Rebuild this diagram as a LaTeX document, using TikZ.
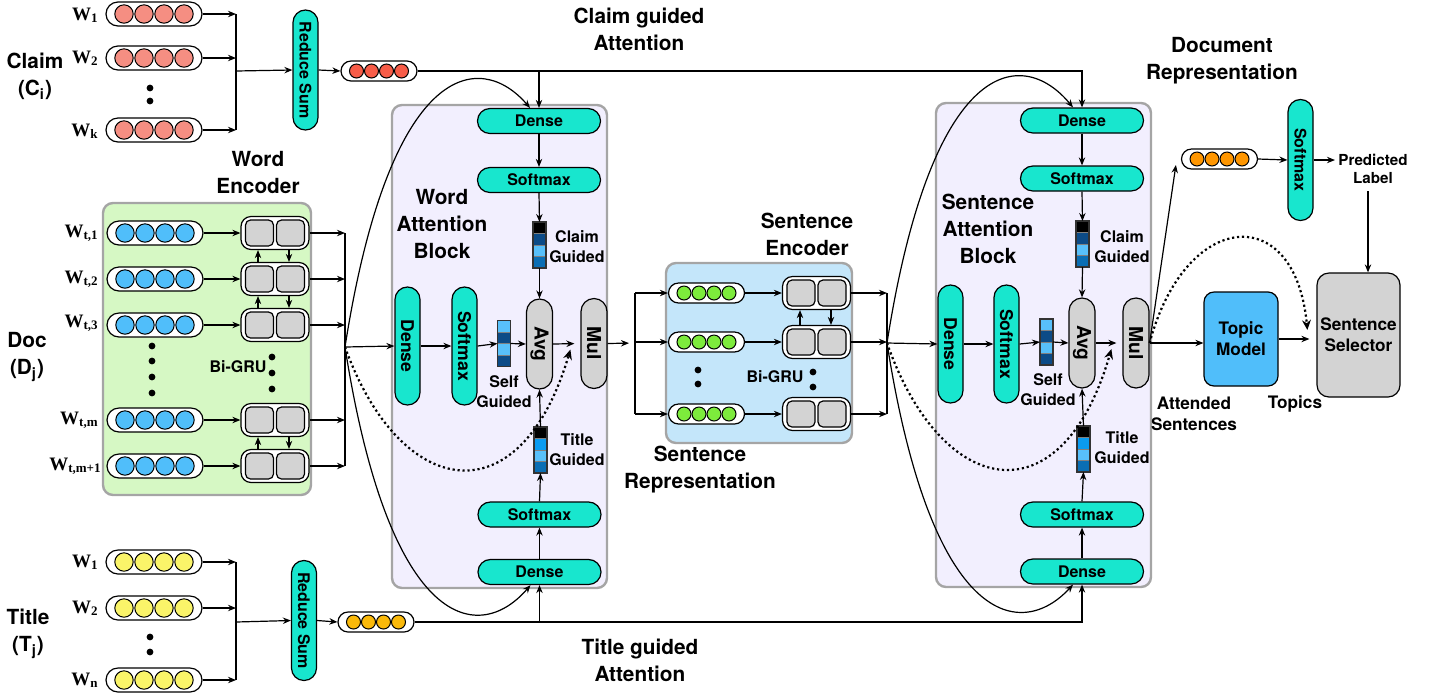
\documentclass[tikz,border=0pt]{standalone}
\usepackage{fontspec}
\usepackage{graphicx}
\setmainfont{TeX Gyre Heros}
\newfontfamily\wfont{Liberation Serif}
\usetikzlibrary{arrows.meta,calc}
\definecolor{tealc}{RGB}{24,230,206}
\definecolor{clmc}{RGB}{245,142,130}
\definecolor{redc}{RGB}{247,92,72}
\definecolor{bluec}{RGB}{80,190,250}
\definecolor{yelc}{RGB}{250,244,105}
\definecolor{torc}{RGB}{250,185,10}
\definecolor{greenc}{RGB}{125,235,60}
\definecolor{dorc}{RGB}{255,150,0}
\definecolor{greenbg}{RGB}{214,248,196}
\definecolor{lavbg}{RGB}{242,239,254}
\definecolor{bluebg}{RGB}{196,230,250}
\definecolor{grayc}{RGB}{211,211,211}
\definecolor{bordc}{RGB}{165,165,165}
\definecolor{navyc}{RGB}{12,75,135}
\definecolor{lightc}{RGB}{88,192,250}
\definecolor{midc}{RGB}{10,110,180}
\definecolor{brightc}{RGB}{10,155,240}
\definecolor{topicc}{RGB}{80,190,250}
\newcommand\wlab[1]{{\wfont\bfseries\fontsize{9.5}{9.5}\selectfont W\raisebox{-0.25ex}{\fontsize{6.5}{6.5}\selectfont #1}}}
\newcommand\bigpill[4]{\node[bigpillbox] (#1) at (#2,#3) {};
 \foreach \dx in {-30,-10,10,30} {\draw[pc, fill=#4] (#2+\dx,#3) circle[radius=4.6pt];}}
\newcommand\smallpill[4]{\node[smallpillbox] (#1) at (#2,#3) {};
 \foreach \dx in {-22.5,-7.5,7.5,22.5} {\draw[pc, fill=#4] (#2+\dx,#3) circle[radius=3.5pt];}}
\newcommand\grucell[3]{\node[gruout] (#1) at (#2,#3) {};
 \node[gruin] (#1a) at (#2-15.5,#3) {};
 \node[gruin] (#1b) at (#2+15.5,#3) {};}
\newcommand\attbar[7]{\node[barbox] (#1) at (#2,#3) {};
 \fill[#4] (#2-6.5,#3-23) rectangle (#2+6.5,#3-11.5);
 \fill[#5] (#2-6.5,#3-11.5) rectangle (#2+6.5,#3);
 \fill[#6] (#2-6.5,#3) rectangle (#2+6.5,#3+11.5);
 \fill[#7] (#2-6.5,#3+11.5) rectangle (#2+6.5,#3+23);
 \draw[gray, line width=0.4pt] (#2-6.5,#3-11.5) -- (#2+6.5,#3-11.5) (#2-6.5,#3) -- (#2+6.5,#3) (#2-6.5,#3+11.5) -- (#2+6.5,#3+11.5);
 \draw[line width=0.6pt, draw=black!80] (#2-6.5,#3-23) rectangle (#2+6.5,#3+23);}
\begin{document}
\begin{tikzpicture}[x=0.5pt,y=-0.5pt,
 arr/.style={line width=0.6pt, -{Stealth[length=4pt,width=3.2pt]}},
 ln/.style={line width=0.6pt},
 dotarr/.style={line width=1.1pt, dash pattern=on 1.1pt off 1.4pt, -{Stealth[length=5pt,width=4.4pt]}},
 bigpillbox/.style={draw, line width=0.6pt, fill=white, rounded corners=6pt, minimum width=48pt, minimum height=12pt, inner sep=0},
 smallpillbox/.style={draw, line width=0.6pt, fill=white, rounded corners=5pt, minimum width=38pt, minimum height=10pt, inner sep=0},
 pc/.style={draw, line width=0.5pt},
 hpill/.style={draw, fill=tealc, rounded corners=6.2pt, minimum width=61.5pt, minimum height=12.5pt, inner sep=0, line width=0.6pt, font=\bfseries\fontsize{8}{8}\selectfont},
 vpill/.style={draw, fill=tealc, rounded corners=6.2pt, minimum width=12.5pt, minimum height=59pt, inner sep=0, line width=0.6pt, font=\bfseries\fontsize{8.8}{8.8}\selectfont},
 gpill/.style={vpill, fill=grayc, minimum width=13pt, minimum height=45pt, rounded corners=6.5pt, font=\bfseries\fontsize{9.6}{9.6}\selectfont},
 gruout/.style={draw, fill=white, rounded corners=5pt, minimum width=34pt, minimum height=16.5pt, inner sep=0, line width=0.6pt},
 gruin/.style={draw, fill=grayc, rounded corners=2.5pt, minimum width=14pt, minimum height=13pt, inner sep=0, line width=0.6pt},
 barbox/.style={minimum width=6.5pt, minimum height=23pt, inner sep=0, outer sep=0},
 block/.style={draw=bordc, line width=1.2pt, rounded corners=5pt, inner sep=0},
 lbl/.style={font=\bfseries\fontsize{10.4}{13.5}\selectfont, align=center, inner sep=0},
 slbl/.style={font=\bfseries\fontsize{8}{10}\selectfont, align=center, inner sep=0},
 mlbl/.style={font=\bfseries\fontsize{8.6}{10.5}\selectfont, align=center, inner sep=0},
 wl/.style={inner sep=0, anchor=east},
 dotn/.style={circle, fill=black, inner sep=0, minimum size=3.4pt},
]
\useasboundingbox (0,0) rectangle (1441,698);

% ---- containers
\node[block, fill=greenbg, minimum width=104pt, minimum height=146pt] (wencbox) at (207,349) {};
\node[block, fill=lavbg, minimum width=107.5pt, minimum height=241.5pt] (wablock) at (499.5,346.5) {};
\node[block, fill=bluebg, minimum width=93pt, minimum height=90pt] (sencbox) at (759,353) {};
\node[block, fill=lavbg, minimum width=107.5pt, minimum height=242pt] (sablock) at (1043.5,345) {};

% ---- big labels
\node[lbl] (claimlbl) at (35,76) {Claim\\(C\textsubscript{i})};
\node[lbl] (doclbl) at (27,357) {Doc\\(D\textsubscript{j})};
\node[lbl] (titlelbl) at (28,634) {Title\\(T\textsubscript{j})};
\node[lbl] (cgatt) at (639,29) {Claim guided\\Attention};
\node[lbl] (tgatt) at (640,660) {Title guided\\Attention};
\node[lbl] (wenclbl) at (258,173) {Word\\Encoder};
\node[lbl] (walbl) at (442,224) {Word\\Attention\\Block};
\node[lbl] (senclbl) at (807,234) {Sentence\\Encoder};
\node[lbl] (sreplbl) at (700,470) {Sentence\\Representation};
\node[lbl] (salbl) at (988,229) {Sentence\\Attention\\Block};
\node[lbl] (dreplbl) at (1222,61) {Document\\Representation};

% ---- claim input
\node[wl] (lc1) at (98,15) {\wlab{1}};
\node[wl] (lc2) at (98,58) {\wlab{2}};
\node[wl] (lck) at (98,131) {\wlab{k}};
\bigpill{cp1}{154}{14}{clmc}
\bigpill{cp2}{154}{58}{clmc}
\bigpill{cpk}{154}{130}{clmc}
\node[dotn] (cd1) at (150,88) {};
\node[dotn] (cd2) at (150,101) {};
\coordinate (cj) at (236,71);
\node[vpill, minimum height=60pt, font=\bfseries\fontsize{8}{8}\selectfont] (crs) at (305.5,70) {\rotatebox{-90}{Reduce Sum}};
\smallpill{cout}{379}{71}{redc}
\draw[arr] (cp1.east) -- (cp1.east -| cj);
\draw[arr] (cp2.east) -- (cp2.east -| cj);
\draw[arr] (cpk.east) -- (cpk.east -| cj);
\draw[ln] (cp1.east -| cj) -- (cpk.east -| cj);
\draw[arr] (cj) -- (crs.west);
\draw[arr] (crs.east) -- (cout.west);

% ---- title input
\node[wl] (lt1) at (98,562) {\wlab{1}};
\node[wl] (lt2) at (98,608) {\wlab{2}};
\node[wl] (ltn) at (98,680) {\wlab{n}};
\bigpill{tp1}{154}{562}{yelc}
\bigpill{tp2}{154}{608}{yelc}
\bigpill{tpn}{154}{680}{yelc}
\node[dotn] (td1) at (150,637) {};
\node[dotn] (td2) at (150,652) {};
\coordinate (tj) at (236,622);
\node[vpill, minimum height=60pt, font=\bfseries\fontsize{8}{8}\selectfont] (trs) at (304,620.5) {\rotatebox{-90}{Reduce Sum}};
\smallpill{tout}{376}{622}{torc}
\draw[arr] (tp1.east) -- (tp1.east -| tj);
\draw[arr] (tp2.east) -- (tp2.east -| tj);
\draw[arr] (tpn.east) -- (tpn.east -| tj);
\draw[ln] (tp1.east -| tj) -- (tpn.east -| tj);
\draw[arr] (tj) -- (trs.west);
\draw[arr] (trs.east) -- (tout.west);

% ---- word encoder
\node[wl] (ld1) at (98,233) {\wlab{t,1}};
\node[wl] (ld2) at (98,279) {\wlab{t,2}};
\node[wl] (ld3) at (98,323) {\wlab{t,3}};
\node[wl] (ld4) at (98,420) {\wlab{t,m}};
\node[wl] (ld5) at (101,466) {\wlab{t,m+1}};
\bigpill{dp1}{155}{233}{bluec}
\bigpill{dp2}{155}{279}{bluec}
\bigpill{dp3}{155}{325}{bluec}
\bigpill{dp4}{155}{420}{bluec}
\bigpill{dp5}{155}{466}{bluec}
\grucell{dg1}{275}{233}
\grucell{dg2}{275}{279}
\grucell{dg3}{275}{325}
\grucell{dg4}{275}{420}
\grucell{dg5}{275}{466}
\foreach \i in {1,...,5} {\draw[arr] (dp\i.east) -- (dg\i.west);}
\draw[arr] ([xshift=-8.5pt]dg2.north) -- ([xshift=-8.5pt]dg1.south);
\draw[arr] ([xshift=7pt]dg1.south) -- ([xshift=7pt]dg2.north);
\draw[arr] ([xshift=-8.5pt]dg3.north) -- ([xshift=-8.5pt]dg2.south);
\draw[arr] ([xshift=7pt]dg2.south) -- ([xshift=7pt]dg3.north);
\draw[arr] ([xshift=-8.5pt]dg5.north) -- ([xshift=-8.5pt]dg4.south);
\draw[arr] ([xshift=7pt]dg4.south) -- ([xshift=7pt]dg5.north);
\node[dotn] (dd1) at (152,346) {};
\node[dotn] (dd2) at (152,361) {};
\node[dotn] (dd3) at (152,377) {};
\node[dotn] (dd4) at (152,393) {};
\node[slbl] (wbigru) at (238,367) {Bi-GRU};
\node[dotn] (dd5) at (272,357) {};
\node[dotn] (dd6) at (272,373) {};
\node[dotn] (dd7) at (272,389) {};
\coordinate (wj) at (345,347);
\foreach \i in {1,...,5} {\draw[arr] (dg\i.east) -- (dg\i.east -| wj);}
\draw[ln] (dg1.east -| wj) -- (dg5.east -| wj);

% ---- word attention block
\node[hpill] (wdenseT) at (539,121) {Dense};
\node[hpill] (wsoftT) at (539,180) {Softmax};
\attbar{wclaimvec}{539.5}{245}{black}{navyc}{lightc}{midc}
\node[slbl] (wcglbl) at (577,247) {Claim\\Guided};
\node[vpill] (wdenseV) at (407.5,346) {\rotatebox{-90}{Dense}};
\node[vpill] (wsoftV) at (464.5,346) {\rotatebox{-90}{Softmax}};
\attbar{wselfvec}{504}{343.5}{lightc}{navyc}{lightc}{navyc}
\node[slbl] (wsglbl) at (504,392) {Self\\Guided};
\node[gpill] (wavg) at (539.5,344) {\rotatebox{-90}{Avg}};
\node[gpill] (wmul) at (594,343.5) {\rotatebox{-90}{Mul}};
\attbar{wtitlevec}{540.5}{450}{black}{brightc}{lightc}{midc}
\node[slbl] (wtglbl) at (577,450) {Title\\Guided};
\node[hpill] (wsoftB) at (539.5,514.5) {Softmax};
\node[hpill] (wdenseB) at (539.5,572) {Dense};
\draw[arr] (wj) -- (wdenseV.west);
\draw[arr] (wdenseV.east) -- (wsoftV.west);
\draw[arr] (wsoftV.east) -- (wselfvec.west);
\draw[arr] (wselfvec.east) -- (wavg.west);
\draw[arr, shorten >=3pt] (wavg.east) -- (wmul.west);
\draw[arr] (wdenseT.south) -- (wsoftT.north);
\draw[arr] (wsoftT.south) -- (wclaimvec.north);
\draw[arr] (wclaimvec.south) -- (wavg.north);
\draw[arr] (wdenseB.north) -- (wsoftB.south);
\draw[arr] (wsoftB.north) -- (wtitlevec.south);
\draw[arr] (wtitlevec.north) -- (wavg.south);
\draw[arr] (wj) .. controls (390,60) and (480,50) .. ([xshift=-4.5pt]wdenseT.north);
\draw[arr] (wj) .. controls (390,634) and (480,644) .. ([xshift=-4.5pt]wdenseB.south);
\draw[dotarr] (wj) .. controls (400,500) and (520,520) .. ([xshift=-5pt,yshift=-3pt]wmul.west);

% ---- sentence encoder
\coordinate (sj) at (635,343);
\smallpill{sp1}{706.5}{293}{greenc}
\smallpill{sp2}{706.5}{342}{greenc}
\smallpill{sp3}{706.5}{414}{greenc}
\grucell{sg1}{816.5}{293}
\grucell{sg2}{816.5}{342}
\grucell{sg3}{816.5}{414}
\draw[arr, shorten >=3pt] (wmul.east) -- (sj);
\draw[ln] (sj |- sp1.west) -- (sj |- sp3.west);
\foreach \i in {1,2,3} {\draw[arr] (sj |- sp\i.west) -- (sp\i.west); \draw[arr] (sp\i.east) -- (sg\i.west);}
\draw[arr] ([xshift=-8.25pt]sg2.north) -- ([xshift=-8.25pt]sg1.south);
\draw[arr] ([xshift=7.25pt]sg1.south) -- ([xshift=7.25pt]sg2.north);
\node[dotn] (sd1) at (698,370) {};
\node[dotn] (sd2) at (698,384) {};
\node[slbl] (sbigru) at (775,377) {Bi-GRU};
\node[dotn] (sd3) at (813,372) {};
\node[dotn] (sd4) at (813,387) {};
\coordinate (sjn) at (887,343);
\foreach \i in {1,2,3} {\draw[arr] (sg\i.east) -- (sg\i.east -| sjn);}
\draw[ln] (sg1.east -| sjn) -- (sg3.east -| sjn);

% ---- sentence attention block
\node[hpill] (sdenseT) at (1082,120.5) {Dense};
\node[hpill] (ssoftT) at (1082,178.5) {Softmax};
\attbar{sclaimvec}{1082.5}{244}{black}{navyc}{lightc}{midc}
\node[slbl] (scglbl) at (1122,247) {Claim\\Guided};
\node[vpill] (sdenseV) at (950.5,344) {\rotatebox{-90}{Dense}};
\node[vpill] (ssoftV) at (1006.5,344) {\rotatebox{-90}{Softmax}};
\attbar{sselfvec}{1046.5}{342}{lightc}{navyc}{lightc}{navyc}
\node[slbl] (ssglbl) at (1048,390) {Self\\Guided};
\node[gpill] (savg) at (1082,343) {\rotatebox{-90}{Avg}};
\node[gpill] (smul) at (1136,343) {\rotatebox{-90}{Mul}};
\attbar{stitlevec}{1083.5}{449}{black}{brightc}{lightc}{midc}
\node[slbl] (stglbl) at (1122,448) {Title\\Guided};
\node[hpill] (ssoftB) at (1082,514.5) {Softmax};
\node[hpill] (sdenseB) at (1082,571.5) {Dense};
\draw[arr] (sjn) -- (sdenseV.west);
\draw[arr] (sdenseV.east) -- (ssoftV.west);
\draw[arr] (ssoftV.east) -- (sselfvec.west);
\draw[arr] (sselfvec.east) -- (savg.west);
\draw[arr, shorten >=3pt] (savg.east) -- (smul.west);
\draw[arr] (sdenseT.south) -- (ssoftT.north);
\draw[arr] (ssoftT.south) -- (sclaimvec.north);
\draw[arr] (sclaimvec.south) -- (savg.north);
\draw[arr] (sdenseB.north) -- (ssoftB.south);
\draw[arr] (ssoftB.north) -- (stitlevec.south);
\draw[arr] (stitlevec.north) -- (savg.south);
\draw[arr] (sjn) .. controls (932,56) and (1022,46) .. ([xshift=-4.5pt]sdenseT.north);
\draw[arr] (sjn) .. controls (932,630) and (1022,640) .. ([xshift=-4.5pt]sdenseB.south);
\draw[dotarr] (sjn) .. controls (942,500) and (1062,520) .. ([xshift=-5.5pt,yshift=-3pt]smul.west);

% ---- guidance lines
\draw[arr] (cout.east) -| (sdenseT.north);
\draw[arr] (cout.east -| wdenseT.north) -- (wdenseT.north);
\draw[arr] (tout.east) -| (sdenseB.south);
\draw[arr] (tout.east -| wdenseB.south) -- (wdenseB.south);

% ---- output part
\smallpill{docvec}{1219.5}{159}{dorc}
\node[vpill, minimum height=60.5pt, font=\bfseries\fontsize{8}{8}\selectfont] (softR) at (1300.5,160) {\rotatebox{-90}{Softmax}};
\node[font=\bfseries\fontsize{7.6}{9}\selectfont, align=center, inner sep=0] (pred) at (1373,169) {Predicted\\Label};
\node[draw, fill=topicc, rounded corners=5pt, minimum width=37pt, minimum height=47pt, inner sep=0, line width=0.6pt, mlbl] (topic) at (1241,339) {Topic\\Model};
\node[draw, fill=grayc, rounded corners=6pt, minimum width=41.5pt, minimum height=62pt, inner sep=0, line width=0.6pt, mlbl] (selector) at (1358.5,335) {Sentence\\Selector};
\node[mlbl] (attlbl) at (1194,414) {Attended\\Sentences};
\node[mlbl] (topicslbl) at (1295,404) {Topics};
\draw[arr] (smul.east) -- ([xshift=-2.5pt,yshift=-3pt]docvec.west);
\draw[arr] (docvec.east) -- (softR.west);
\draw[arr] (softR.east) -- ([xshift=-1.5pt]pred.west |- softR.east);
\draw[arr] ([xshift=-2.5pt,yshift=-3.5pt]pred.south) -- ([xshift=-2.5pt]pred.south |- selector.north);
\draw[arr] (smul.east) -- (topic.west |- smul.east);
\draw[arr] (topic.east) -- ([xshift=-3.5pt]selector.west |- topic.east);
\draw[dotarr] (smul.east) .. controls (1185,210) and (1295,200) .. ([xshift=-4.5pt,yshift=2.5pt]selector.west);
\end{tikzpicture}
\end{document}
